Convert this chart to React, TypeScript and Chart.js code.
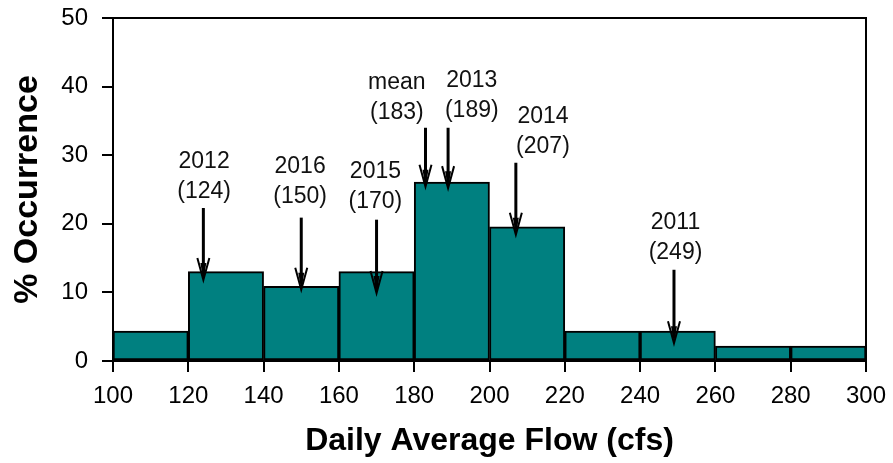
import React, { useEffect, useRef } from "react";
import { Chart, registerables } from "chart.js";

Chart.register(...registerables);

// Histogram bins (lower edge .. upper edge) and % occurrence
const binStarts = [100, 120, 140, 160, 180, 200, 220, 240, 260, 280];
const binWidth = 20;
const occurrence = [4.35, 13.04, 10.87, 13.04, 26.09, 19.57, 4.35, 4.35, 2.17, 2.17];

const xTickValues = [100, 120, 140, 160, 180, 200, 220, 240, 260, 280, 300];
const yTickValues = [0, 10, 20, 30, 40, 50];

// Annotations: label, flow value (cfs)
const annLabels = ["2012", "2016", "2015", "mean", "2013", "2014", "2011"];
const annValues = [124, 150, 170, 183, 189, 207, 249];
// placement of annotation text / arrows (data units)
const annTextX = [124.2, 149.7, 169.7, 175.4, 195.3, 214.2, 249.4];
const annTextY = [29.0, 28.3, 27.6, 40.6, 40.9, 35.6, 20.1];
const annArrowTop = [22.3, 20.9, 20.6, 34.0, 34.0, 28.9, 13.3];
const annArrowTip = [11.8, 10.4, 9.9, 25.4, 25.2, 18.4, 2.6];

const FONT = "'Liberation Sans', Arial, Helvetica, sans-serif";

const annotationPlugin = {
  id: "annotations",
  afterDatasetsDraw(chart: any) {
    const { ctx, chartArea, scales } = chart;
    const xs = scales.x;
    const ys = scales.y;
    ctx.save();
    // frame around plot area
    ctx.strokeStyle = "#000";
    ctx.lineWidth = 2;
    ctx.strokeRect(chartArea.left, chartArea.top, chartArea.right - chartArea.left, chartArea.bottom - chartArea.top);

    ctx.font = `23px ${FONT}`;
    ctx.textAlign = "center";
    ctx.textBaseline = "middle";
    for (let i = 0; i < annLabels.length; i++) {
      const tx = xs.getPixelForValue(annTextX[i]);
      const ty = ys.getPixelForValue(annTextY[i]);
      ctx.fillStyle = "#111";
      ctx.fillText(annLabels[i], tx, ty);
      ctx.fillText(`(${annValues[i]})`, tx, ty + 30);

      const ax = xs.getPixelForValue(annValues[i]);
      const top = ys.getPixelForValue(annArrowTop[i]);
      const tip = ys.getPixelForValue(annArrowTip[i]);
      ctx.strokeStyle = "#000";
      ctx.fillStyle = "#000";
      ctx.lineWidth = 3;
      ctx.beginPath();
      ctx.moveTo(ax, top);
      ctx.lineTo(ax, tip - 6);
      ctx.stroke();
      // head
      ctx.lineWidth = 2;
      ctx.beginPath();
      ctx.moveTo(ax - 6, tip - 22);
      ctx.lineTo(ax, tip);
      ctx.lineTo(ax + 6, tip - 22);
      ctx.stroke();
      ctx.beginPath();
      ctx.moveTo(ax, tip);
      ctx.lineTo(ax - 3, tip - 17);
      ctx.lineTo(ax + 3, tip - 17);
      ctx.closePath();
      ctx.fill();
    }
    ctx.restore();
  },
};

export default function App() {
  const canvasRef = useRef<HTMLCanvasElement | null>(null);

  useEffect(() => {
    document.body.style.margin = "0";
    const canvas = canvasRef.current;
    if (!canvas) return;
    const data = binStarts.map((s, i) => ({ x: s + binWidth / 2, y: occurrence[i] }));
    const chart = new Chart(canvas, {
      type: "bar",
      data: {
        datasets: [
          {
            data: data as any,
            backgroundColor: "#008080",
            borderColor: "#000",
            borderWidth: 2,
            borderSkipped: false,
            barPercentage: 1,
            categoryPercentage: 1,
          } as any,
        ],
      },
      options: {
        animation: false,
        responsive: false,
        devicePixelRatio: 1,
        layout: { padding: { left: 0, right: 27, top: 18, bottom: 0 } },
        plugins: { legend: { display: false }, tooltip: { enabled: false }, title: { display: false } },
        scales: {
          x: {
            type: "linear",
            min: 100,
            max: 300,
            offset: false,
            afterBuildTicks: (scale: any) => {
              scale.ticks = xTickValues.map((v) => ({ value: v }));
            },
            afterFit: (scale: any) => {
              scale.height = 102;
              scale.paddingLeft = 0;
              scale.paddingRight = 0;
            },
            grid: {
              display: true,
              drawOnChartArea: false,
              drawTicks: true,
              tickLength: 11,
              color: "#000",
              lineWidth: 2,
              offset: false,
            },
            border: { display: true, color: "#000", width: 2 },
            ticks: {
              color: "#000",
              font: { family: FONT, size: 24 },
              padding: 10,
              maxRotation: 0,
              autoSkip: false,
            },
            title: {
              display: true,
              text: "Daily Average Flow (cfs)",
              color: "#000",
              font: { family: FONT, size: 32, weight: "bold" },
              padding: { top: 0, bottom: 3 },
            },
          },
          y: {
            type: "linear",
            min: 0,
            max: 50,
            afterBuildTicks: (scale: any) => {
              scale.ticks = yTickValues.map((v) => ({ value: v }));
            },
            afterFit: (scale: any) => {
              scale.width = 113;
              scale.paddingTop = 0;
              scale.paddingBottom = 0;
            },
            grid: {
              display: true,
              drawOnChartArea: false,
              drawTicks: true,
              tickLength: 11,
              color: "#000",
              lineWidth: 2,
            },
            border: { display: true, color: "#000", width: 2 },
            ticks: {
              color: "#000",
              font: { family: FONT, size: 24 },
              padding: 14,
            },
            title: {
              display: true,
              text: "% Occurrence",
              color: "#000",
              font: { family: FONT, size: 34, weight: "bold" },
              padding: { top: 7, bottom: 0 },
            },
          },
        },
      },
      plugins: [annotationPlugin],
    } as any);
    return () => chart.destroy();
  }, []);

  return (
    <div style={{ width: 893, height: 463, position: "relative", background: "#fff" }}>
      <canvas ref={canvasRef} width={893} height={463} />
    </div>
  );
}
